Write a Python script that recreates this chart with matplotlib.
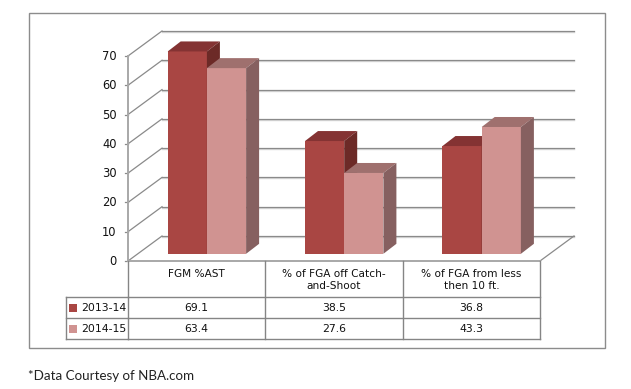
import matplotlib
matplotlib.use("Agg")
import matplotlib.pyplot as plt
from matplotlib.patches import Polygon, Rectangle

categories = ["FGM %AST", "% of FGA off Catch-\nand-Shoot", "% of FGA from less\nthen 10 ft."]
series_names = ["2013-14", "2014-15"]
values_2013 = [69.1, 38.5, 36.8]
values_2014 = [63.4, 27.6, 43.3]
y_ticks = [0, 10, 20, 30, 40, 50, 60, 70]

W, H = 631, 389
PX_LEFT, PX_RIGHT, PX_Y0, PX_Y70 = 128.0, 540.0, 261.0, 56.0
fig = plt.figure(figsize=(W / 100, H / 100), dpi=100, facecolor="white")
ax = fig.add_axes([PX_LEFT / W, 1 - PX_Y0 / H, (PX_RIGHT - PX_LEFT) / W, (PX_Y0 - PX_Y70) / H])
ax.set_xlim(0, 3)
ax.set_ylim(0, 70)
ax.axis("off")

xu = (PX_RIGHT - PX_LEFT) / 3
yu = (PX_Y0 - PX_Y70) / 70
def dx(px): return px / xu
def dy(px): return px / yu

GRID, SHADE, AXIS = "#8a8a8a", "#d8d8d8", "#a8a8a8"
DEPTH_X, DEPTH_Y = dx(34), dy(25)

frame = Rectangle((28.5 / W, 1 - 348 / H), (604.5 - 28.5) / W, (348 - 12.5) / H, transform=fig.transFigure,
                  fill=False, ec="#8c8c8c", lw=1)
fig.add_artist(frame)

for t in y_ticks:
    ax.plot([DEPTH_X, 3 + DEPTH_X], [t + DEPTH_Y - dy(1), t + DEPTH_Y - dy(1)], color=SHADE, lw=1, clip_on=False, zorder=1)
    ax.plot([DEPTH_X, 3 + DEPTH_X], [t + DEPTH_Y, t + DEPTH_Y], color=GRID, lw=0.9, clip_on=False, zorder=1.1)
    ax.plot([0, DEPTH_X], [t, t + DEPTH_Y], color=GRID, lw=0.9, clip_on=False, zorder=1.1)
    ax.plot([-dx(3), 0], [t, t], color=GRID, lw=0.9, clip_on=False, zorder=1.1)
    ax.text(-dx(11.5), t + dy(-0.5), str(t), ha="right", va="center", fontsize=8.3, color="#111111")
ax.plot([0, 0], [0, 70], color=AXIS, lw=1.4, clip_on=False, zorder=1.2)
ax.plot([3, 3 + DEPTH_X], [0, DEPTH_Y], color=GRID, lw=0.9, clip_on=False, zorder=1.1)

FRONT = ["#a94643", "#d09391"]
TOP = ["#843333", "#9f706e"]
SIDE = ["#6c2a27", "#866060"]
BASE = dy(7.2)
BW = dx(39.2)
CDX = [dx(167.7 - 128), dx(305 - 128), dx(442.5 - 128)]
BDX, BDY = dx(13), dy(10)

for i, vals in enumerate([values_2013, values_2014]):
    z = 3 + i
    xs = [c + BW * i for c in CDX]
    ax.bar(xs, vals, width=BW, bottom=BASE, align="edge", color=FRONT[i], lw=0, zorder=z, clip_on=False)
    for x, v in zip(xs, vals):
        top = BASE + v
        ax.add_patch(Polygon([(x, top), (x + BDX, top + BDY), (x + BW + BDX, top + BDY), (x + BW, top)],
                             fc=TOP[i], ec="none", zorder=z, clip_on=False))
        ax.add_patch(Polygon([(x + BW, BASE), (x + BW + BDX, BASE + BDY), (x + BW + BDX, top + BDY), (x + BW, top)],
                             fc=SIDE[i], ec="none", zorder=z, clip_on=False))

TC = "#858585"
rows_y = [0, -dy(36.3), -dy(57.3), -dy(78)]
left_leg = -dx(128 - 65.7)
for k in range(4):
    ax.plot([0, 3], [rows_y[k]] * 2, color=TC if k else AXIS, lw=1 if k else 1.4, clip_on=False, zorder=2)
for k in (1, 2, 3):
    ax.plot([left_leg, 0], [rows_y[k]] * 2, color=TC, lw=1, clip_on=False, zorder=2)
for c in range(4):
    ax.plot([c, c], [rows_y[0], rows_y[3]], color=TC, lw=1, clip_on=False, zorder=2)
ax.plot([left_leg] * 2, [rows_y[1], rows_y[3]], color=TC, lw=1, clip_on=False, zorder=2)

for c, name in enumerate(categories):
    ax.text(c + 0.5, rows_y[0] - dy(8), name, ha="center", va="top", fontsize=7.6, color="#111111", linespacing=1.2)
for r, (name, vals) in enumerate(zip(series_names, [values_2013, values_2014])):
    cy = (rows_y[r + 1] + rows_y[r + 2]) / 2
    ax.add_patch(Rectangle((left_leg + dx(3.5), cy - dy(4)), dx(8), dy(8), fc=FRONT[r], ec="none", clip_on=False))
    ax.text(left_leg + dx(15), cy, name, ha="left", va="center", fontsize=7.8, color="#111111")
    for c, v in enumerate(vals):
        ax.text(c + 0.5, cy, f"{v:.1f}", ha="center", va="center", fontsize=7.8, color="#111111")

fig.text(28 / W, 1 - 375.5 / H, "*Data Courtesy of NBA.com", ha="left", va="center",
         fontsize=9.6, family="Lato", color="#222222")

fig.savefig("out.png", dpi=100)
